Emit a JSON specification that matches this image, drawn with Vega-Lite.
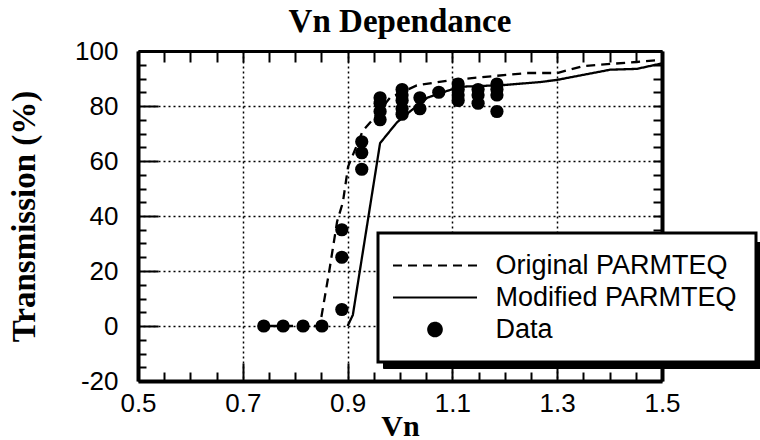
{
  "$schema": "https://vega.github.io/schema/vega-lite/v6.json",
  "width": 524,
  "height": 330,
  "autosize": {"type": "none"},
  "padding": {"left": 138, "top": 51, "right": 98, "bottom": 59},
  "background": "white",
  "title": {"text": "Vn  Dependance", "font": "Liberation Serif", "fontSize": 33, "fontWeight": "bold", "color": "black", "anchor": "middle", "frame": "group", "baseline": "alphabetic", "offset": -27},
  "config": {
    "view": {"stroke": null},
    "axis": {"domainColor": "black", "tickColor": "black", "tickWidth": 2, "labelColor": "black", "titleColor": "black", "labelOverlap": false, "labelFlush": false, "labelFont": "Liberation Sans", "labelFontSize": 26, "titleFont": "Liberation Serif", "titleFontWeight": "bold"}
  },
  "datasets": {
    "curves": [
      {"series": "Original PARMTEQ", "Vn": 0.75, "T": 0},
      {"series": "Original PARMTEQ", "Vn": 0.847, "T": 0},
      {"series": "Original PARMTEQ", "Vn": 0.865, "T": 20},
      {"series": "Original PARMTEQ", "Vn": 0.88, "T": 38},
      {"series": "Original PARMTEQ", "Vn": 0.891, "T": 45},
      {"series": "Original PARMTEQ", "Vn": 0.901, "T": 58},
      {"series": "Original PARMTEQ", "Vn": 0.914, "T": 64},
      {"series": "Original PARMTEQ", "Vn": 0.929, "T": 71},
      {"series": "Original PARMTEQ", "Vn": 0.943, "T": 74},
      {"series": "Original PARMTEQ", "Vn": 0.981, "T": 83},
      {"series": "Original PARMTEQ", "Vn": 1.032, "T": 87.5},
      {"series": "Original PARMTEQ", "Vn": 1.101, "T": 89.5},
      {"series": "Original PARMTEQ", "Vn": 1.242, "T": 92},
      {"series": "Original PARMTEQ", "Vn": 1.3, "T": 92},
      {"series": "Original PARMTEQ", "Vn": 1.349, "T": 94.5},
      {"series": "Original PARMTEQ", "Vn": 1.401, "T": 95.3},
      {"series": "Original PARMTEQ", "Vn": 1.452, "T": 96},
      {"series": "Original PARMTEQ", "Vn": 1.5, "T": 96.8},
      {"series": "Modified PARMTEQ", "Vn": 0.9, "T": 0},
      {"series": "Modified PARMTEQ", "Vn": 0.91, "T": 4},
      {"series": "Modified PARMTEQ", "Vn": 0.962, "T": 66.5},
      {"series": "Modified PARMTEQ", "Vn": 0.994, "T": 74},
      {"series": "Modified PARMTEQ", "Vn": 1.019, "T": 78},
      {"series": "Modified PARMTEQ", "Vn": 1.052, "T": 83},
      {"series": "Modified PARMTEQ", "Vn": 1.082, "T": 85},
      {"series": "Modified PARMTEQ", "Vn": 1.115, "T": 87},
      {"series": "Modified PARMTEQ", "Vn": 1.197, "T": 87.6},
      {"series": "Modified PARMTEQ", "Vn": 1.267, "T": 88.7},
      {"series": "Modified PARMTEQ", "Vn": 1.3, "T": 89.5},
      {"series": "Modified PARMTEQ", "Vn": 1.401, "T": 93.2},
      {"series": "Modified PARMTEQ", "Vn": 1.452, "T": 93.5},
      {"series": "Modified PARMTEQ", "Vn": 1.5, "T": 95.5}
    ],
    "points": [
      {"series": "Data", "Vn": 0.74, "T": 0},
      {"series": "Data", "Vn": 0.777, "T": 0},
      {"series": "Data", "Vn": 0.815, "T": 0},
      {"series": "Data", "Vn": 0.851, "T": 0},
      {"series": "Data", "Vn": 0.889, "T": 6},
      {"series": "Data", "Vn": 0.889, "T": 25},
      {"series": "Data", "Vn": 0.889, "T": 35},
      {"series": "Data", "Vn": 0.927, "T": 57},
      {"series": "Data", "Vn": 0.927, "T": 63},
      {"series": "Data", "Vn": 0.927, "T": 67},
      {"series": "Data", "Vn": 0.962, "T": 75},
      {"series": "Data", "Vn": 0.962, "T": 78},
      {"series": "Data", "Vn": 0.962, "T": 81},
      {"series": "Data", "Vn": 0.962, "T": 83},
      {"series": "Data", "Vn": 1.004, "T": 77},
      {"series": "Data", "Vn": 1.004, "T": 79},
      {"series": "Data", "Vn": 1.004, "T": 82},
      {"series": "Data", "Vn": 1.004, "T": 84},
      {"series": "Data", "Vn": 1.004, "T": 86},
      {"series": "Data", "Vn": 1.038, "T": 79},
      {"series": "Data", "Vn": 1.038, "T": 83},
      {"series": "Data", "Vn": 1.074, "T": 85},
      {"series": "Data", "Vn": 1.111, "T": 82},
      {"series": "Data", "Vn": 1.111, "T": 84},
      {"series": "Data", "Vn": 1.111, "T": 86},
      {"series": "Data", "Vn": 1.111, "T": 88},
      {"series": "Data", "Vn": 1.149, "T": 81},
      {"series": "Data", "Vn": 1.149, "T": 84},
      {"series": "Data", "Vn": 1.149, "T": 86},
      {"series": "Data", "Vn": 1.185, "T": 78},
      {"series": "Data", "Vn": 1.185, "T": 84},
      {"series": "Data", "Vn": 1.185, "T": 86},
      {"series": "Data", "Vn": 1.185, "T": 88}
    ]
  },
  "layer": [
    {
      "data": {"name": "curves"},
      "mark": {"type": "line", "strokeWidth": 2.3},
      "encoding": {
        "x": {
          "field": "Vn", "type": "quantitative",
          "scale": {"domain": [0.5, 1.5], "nice": false, "zero": false},
          "axis": {
            "orient": "bottom",
            "values": [0.5,0.55,0.6,0.65,0.7,0.75,0.8,0.85,0.9,0.95,1.0,1.05,1.1,1.15,1.2,1.25,1.3,1.35,1.4,1.45,1.5],
            "labelExpr": "(abs(datum.value*10 - round(datum.value*10)) < 0.001 && round(datum.value*10) % 2 == 1) ? format(datum.value, '.1f') : ''",
            "tickSize": {"condition": {"test": "abs(datum.value*10 - round(datum.value*10)) < 0.001 && round(datum.value*10) % 2 == 1", "value": -18}, "value": -9},
            "labelPadding": 27,
            "domainWidth": 4,
            "grid": true,
            "gridColor": "black",
            "gridDash": [2, 3],
            "gridWidth": 1.5,
            "gridOpacity": {"condition": {"test": "abs(datum.value*10 - round(datum.value*10)) < 0.001 && round(datum.value*10) % 2 == 1 && datum.value > 0.55 && datum.value < 1.45", "value": 1}, "value": 0},
            "title": "Vn",
            "titleFontSize": 30,
            "titleBaseline": "alphabetic",
            "titleY": 54
          }
        },
        "y": {
          "field": "T", "type": "quantitative",
          "scale": {"domain": [-20, 100], "nice": false, "zero": false},
          "axis": {
            "orient": "left",
            "values": [-20,-15,-10,-5,0,5,10,15,20,25,30,35,40,45,50,55,60,65,70,75,80,85,90,95,100],
            "labelExpr": "datum.value % 20 == 0 ? ('' + datum.value) : ''",
            "tickSize": {"condition": {"test": "datum.value % 20 == 0", "value": -20}, "value": -8},
            "labelPadding": 40,
            "domainWidth": 4,
            "grid": true,
            "gridColor": "black",
            "gridDash": [2, 3],
            "gridWidth": 1.5,
            "gridOpacity": {"condition": {"test": "datum.value % 20 == 0 && datum.value > -20 && datum.value < 100", "value": 1}, "value": 0},
            "title": "Transmission  (%)",
            "titleFontSize": 33,
            "titlePadding": 33
          }
        },
        "color": {
          "field": "series", "type": "nominal",
          "scale": {"domain": ["Original PARMTEQ", "Modified PARMTEQ", "Data"], "range": ["black", "black", "black"]},
          "legend": {
            "title": null,
            "orient": "none",
            "legendX": 240,
            "legendY": 182,
            "direction": "vertical",
            "padding": 19,
            "strokeColor": "black",
            "fillColor": "white",
            "labelFont": "Liberation Sans",
            "labelFontSize": 27,
            "labelColor": "black",
            "labelOffset": 47,
            "labelLimit": 400,
            "symbolSize": 441,
            "symbolOffset": 24.5,
            "symbolStrokeWidth": 2,
            "rowPadding": 4,
            "zindex": 2,
            "encode": {
              "legend": {"update": {"strokeWidth": {"value": 3}}},
              "symbols": {"update": {
                "shape": {"signal": "datum.value === 'Data' ? 'M-0.65,0A0.65,0.65,0,1,1,0.65,0A0.65,0.65,0,1,1,-0.65,0Z' : 'M-4,0H4'"},
                "strokeDash": {"signal": "datum.value === 'Original PARMTEQ' ? [9,6] : [1,0]"},
                "fill": {"value": "black"},
                "fillOpacity": {"value": 1},
                "stroke": {"value": "black"},
                "strokeWidth": {"value": 2},
                "size": {"value": 441},
                "opacity": {"value": 1}
              }}
            }
          }
        },
        "strokeDash": {
          "field": "series", "type": "nominal",
          "scale": {"domain": ["Original PARMTEQ", "Modified PARMTEQ"], "range": [[9, 6], [1, 0]]},
          "legend": null
        }
      }
    },
    {
      "data": {"name": "points"},
      "mark": {"type": "circle", "size": 175},
      "encoding": {
        "x": {
          "field": "Vn", "type": "quantitative",
          "axis": {
            "orient": "top",
            "values": [0.5,0.55,0.6,0.65,0.7,0.75,0.8,0.85,0.9,0.95,1.0,1.05,1.1,1.15,1.2,1.25,1.3,1.35,1.4,1.45,1.5],
            "labels": false,
            "tickSize": -11,
            "domainWidth": 3,
            "grid": false,
            "title": null
          }
        },
        "y": {
          "field": "T", "type": "quantitative",
          "axis": {
            "orient": "right",
            "values": [-20,-15,-10,-5,0,5,10,15,20,25,30,35,40,45,50,55,60,65,70,75,80,85,90,95,100],
            "labels": false,
            "tickSize": -9,
            "domainWidth": 4,
            "grid": false,
            "title": null
          }
        },
        "color": {"field": "series", "type": "nominal"},
        "opacity": {
          "field": "series", "type": "ordinal",
          "scale": {"domain": ["Data"], "range": [1, 1]},
          "legend": {
            "title": null,
            "orient": "none",
            "legendX": 245,
            "legendY": 191,
            "padding": 19,
            "fillColor": "black",
            "strokeColor": "black",
            "symbolSize": 7000,
            "symbolType": "M-1,-1H7V1H-1Z",
            "symbolFillColor": "black",
            "symbolStrokeColor": "black",
            "symbolStrokeWidth": 1.5,
            "labelExpr": "''",
            "labelFontSize": 27,
            "labelOffset": 0,
            "zindex": 1
          }
        }
      }
    }
  ],
  "resolve": {"axis": {"x": "independent", "y": "independent"}}
}
